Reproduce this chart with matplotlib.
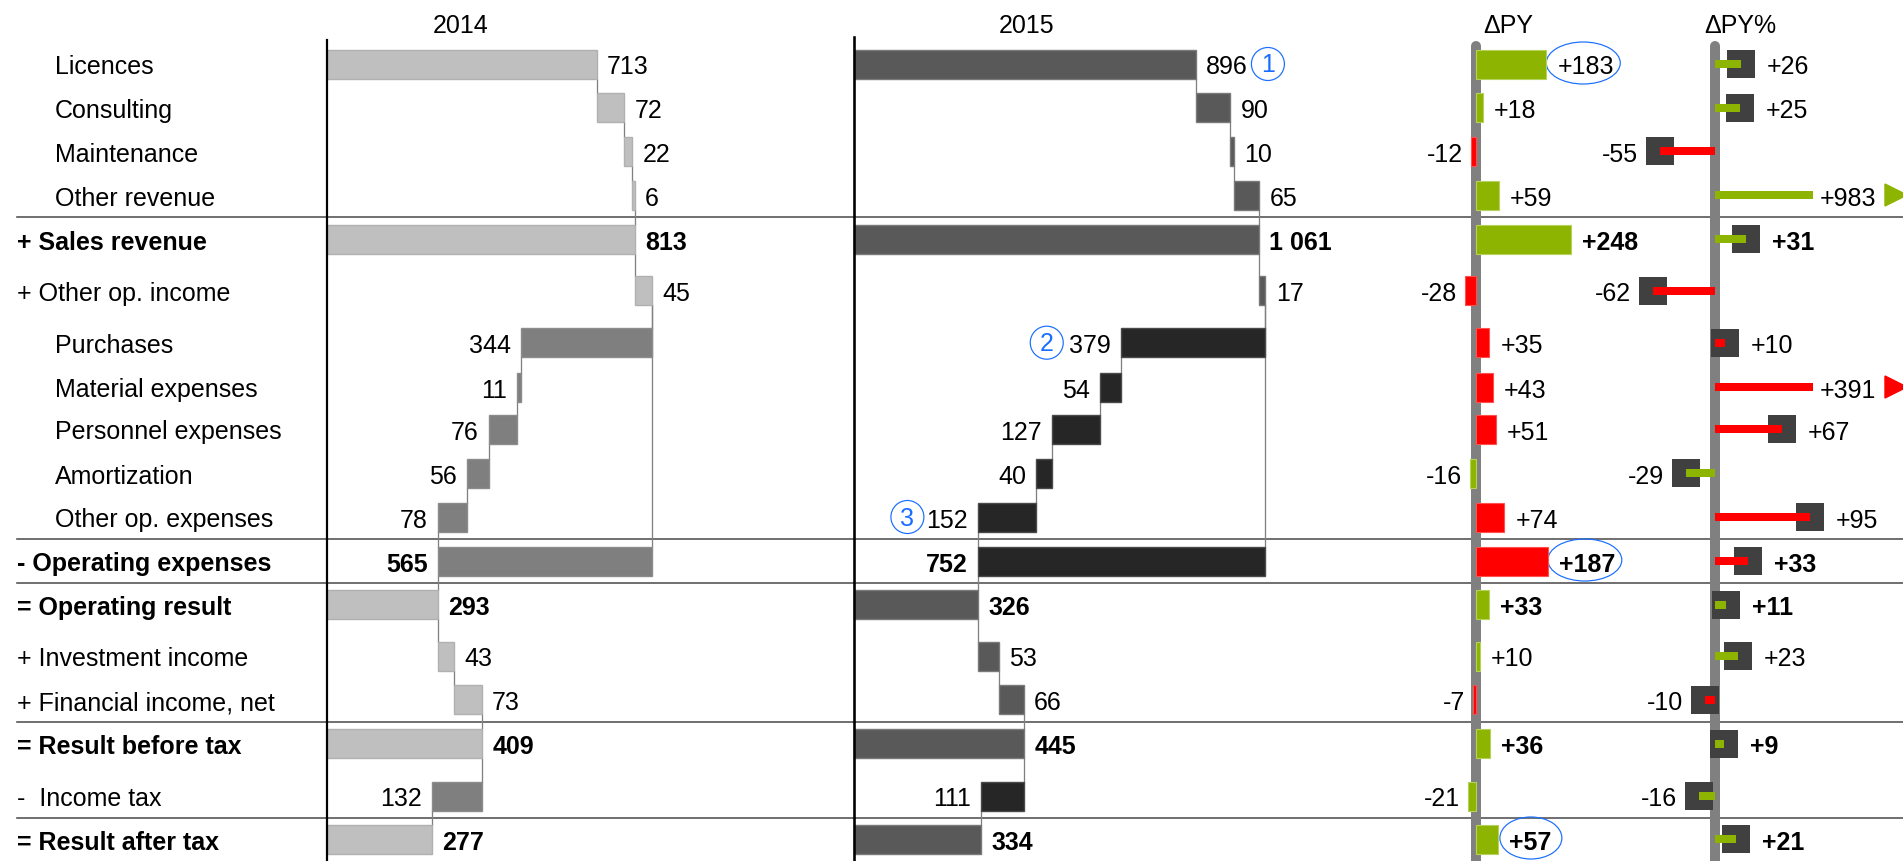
import matplotlib
matplotlib.use("Agg")
import matplotlib.pyplot as plt
from matplotlib.patches import Ellipse, Circle, Polygon

# ---------------- data ----------------
labels = ["Licences", "Consulting", "Maintenance", "Other revenue", "+ Sales revenue",
          "+ Other op. income", "Purchases", "Material expenses", "Personnel expenses",
          "Amortization", "Other op. expenses", "- Operating expenses", "= Operating result",
          "+ Investment income", "+ Financial income, net", "= Result before tax",
          "-  Income tax", "= Result after tax"]
# '+' adds, '-' subtracts, 'T' total, 'E' expense subtotal
kinds = ['+', '+', '+', '+', 'T', '+', '-', '-', '-', '-', '-', 'E', 'T', '+', '+', 'T', '-', 'T']
indented = [True, True, True, True, False, False, True, True, True, True, True,
            False, False, False, False, False, False, False]
v2014 = [713, 72, 22, 6, 813, 45, 344, 11, 76, 56, 78, 565, 293, 43, 73, 409, 132, 277]
v2015 = [896, 90, 10, 65, 1061, 17, 379, 54, 127, 40, 152, 752, 326, 53, 66, 445, 111, 334]
dpy = [183, 18, -12, 59, 248, -28, 35, 43, 51, -16, 74, 187, 33, 10, -7, 36, -21, 57]
dpy_pct = [26, 25, -55, 983, 31, -62, 10, 391, 67, -29, 95, 33, 11, 23, -10, 9, -16, 21]
headers = ["2014", "2015", "ΔPY", "ΔPY%"]
# annotations: (row, marker text)
circled_2015 = [(0, "1"), (6, "2"), (10, "3")]
ellipse_dpy_rows = [0, 11, 17]

# ---------------- layout ----------------
W, H = 1903, 861
row_y = [64, 107.5, 151, 195, 239, 290.5, 342.7, 387, 429, 473, 517, 561,
         604.5, 656, 699.5, 743.5, 796, 839]
BAR_H = 29
sep_after = [3, 10, 11, 14, 16]
FS = 18
BASE_OFF = 10.5          # px from row centre to text baseline
FONT = ["Liberation Sans", "DejaVu Sans"]
plt.rcParams["font.family"] = FONT

GREEN = "#8DB400"
RED = "#FF0000"
BLUE = "#1A6EFF"
PX2PT = 0.72
YOFF = -BASE_OFF * PX2PT   # offset in points for annotate (down)

fig = plt.figure(figsize=(W / 100, H / 100), dpi=100)

base = fig.add_axes([0, 0, 1, 1])
base.set_xlim(0, W)
base.set_ylim(H, 0)
base.axis("off")


def panel(px_left, px_right, zero_px, scale):
    ax = fig.add_axes([px_left / W, 0, (px_right - px_left) / W, 1])
    ax.set_xlim((px_left - zero_px) / scale, (px_right - zero_px) / scale)
    ax.set_ylim(H, 0)
    ax.axis("off")
    ax.patch.set_alpha(0)
    return ax


# row labels and separators
for i, lab in enumerate(labels):
    bold = kinds[i] in ("T", "E")
    base.text(55 if indented[i] else 17, row_y[i] + BASE_OFF, lab, fontsize=FS,
              fontweight="bold" if bold else "normal", va="baseline", ha="left")
for i in sep_after:
    yy = (row_y[i] + row_y[i + 1]) / 2
    base.plot([17, W], [yy, yy], color="#505050", lw=1.6 * PX2PT, zorder=1)


def fmt(v):
    return f"{v:,}".replace(",", " ")


def waterfall(vals):
    run = 0
    bars, after = [], []
    for v, k in zip(vals, kinds):
        if k == '+':
            lo, hi = run, run + v
            run = hi
        elif k == '-':
            lo, hi = run - v, run
            run = lo
        elif k == 'T':
            lo, hi = 0, v
            run = v
        else:  # 'E'
            lo, hi = run, run + v
        bars.append((lo, hi))
        after.append(run)
    return bars, after


def label(ax, txt, x, y, dx_pt, ha, bold):
    ax.annotate(txt, (x, y), xytext=(dx_pt, YOFF), textcoords="offset points",
                ha=ha, va="baseline", fontsize=FS,
                fontweight="bold" if bold else "normal")


def draw_waterfall(ax, vals, col_pos, col_neg, edge_pos, edge_neg):
    bars, after = waterfall(vals)
    for i, ((lo, hi), k) in enumerate(zip(bars, kinds)):
        neg = k in ('-', 'E')
        ax.barh(row_y[i], hi - lo, left=lo, height=BAR_H,
                color=col_neg if neg else col_pos,
                edgecolor=edge_neg if neg else edge_pos, linewidth=1.0, zorder=3)
        bold = k in ('T', 'E')
        if neg:
            label(ax, fmt(vals[i]), lo, row_y[i], -7.5, "right", bold)
        else:
            label(ax, fmt(vals[i]), hi, row_y[i], 7.5, "left", bold)
    # connectors
    for i in range(len(vals) - 1):
        x = after[i]
        ax.plot([x, x], [row_y[i] + BAR_H / 2, row_y[i + 1] - BAR_H / 2],
                color="#808080", lw=1.3 * PX2PT, zorder=2)
    for k_i, k in enumerate(kinds):
        if k == 'E':
            hi = bars[k_i][1]
            j = max(j for j in range(k_i) if after[j] == hi)
            ax.plot([hi, hi], [row_y[j] + BAR_H / 2, row_y[k_i] - BAR_H / 2],
                    color="#808080", lw=1.3 * PX2PT, zorder=2)
    return bars


HEAD_BASE = 33

# ---- 2014 ----
Z14, S14 = 327, 0.3784
ax14 = panel(240, 860, Z14, S14)
ax14.plot([0, 0], [40, H], color="black", lw=2.2 * PX2PT, zorder=4)
draw_waterfall(ax14, v2014, "#BFBFBF", "#7F7F7F", "#B0B0B0", "#8C8C8C")
base.text(461, HEAD_BASE, headers[0], fontsize=FS, ha="center", va="baseline")

# ---- 2015 ----
Z15, S15 = 854, 0.3816
ax15 = panel(700, 1460, Z15, S15)
ax15.plot([0, 0], [37, H], color="black", lw=2.6 * PX2PT, zorder=4)
bars15 = draw_waterfall(ax15, v2015, "#595959", "#262626", "#7A7A7A", "#4A4A4A")
base.text(1027, HEAD_BASE, headers[1], fontsize=FS, ha="center", va="baseline")

# circled markers
for r, t in circled_2015:
    lo, hi = bars15[r]
    if kinds[r] in ('-', 'E'):
        cx = Z15 + lo * S15 - (74 if r == 6 else 71)
    else:
        cx = Z15 + hi * S15 + 72
    base.add_patch(Circle((cx, row_y[r]), 16.5, fill=False, ec=BLUE, lw=1.2 * PX2PT, zorder=5))
    base.text(cx, row_y[r] + 8.5, t, color=BLUE, fontsize=FS, ha="center",
              va="baseline", zorder=6)

# ---- ΔPY ----
ZD, SD = 1476, 0.384
axd = panel(1380, 1700, ZD, SD)
axd.plot([0, 0], [46, H + 10], color="#808080", lw=10 * PX2PT,
         solid_capstyle="round", zorder=2)
base.text(1483, HEAD_BASE, headers[2], fontsize=FS, ha="left", va="baseline")
for i, v in enumerate(dpy):
    expense = kinds[i] in ('-', 'E')
    good = (v > 0) != expense
    col = GREEN if good else RED
    axd.barh(row_y[i], v, left=0, height=BAR_H, color=col,
             edgecolor="#B5D35A" if good else "#FF5050", linewidth=0.8, zorder=3)
    bold = kinds[i] in ('T', 'E')
    txt = f"{v:+d}"
    if v >= 0:
        label(axd, txt, v, row_y[i], 8, "left", bold)
    else:
        label(axd, txt, v, row_y[i], -6, "right", bold)
for r in ellipse_dpy_rows:
    cx = ZD + dpy[r] * SD + (33 if dpy[r] < 100 else 37)
    w = 62 if dpy[r] < 100 else 74
    base.add_patch(Ellipse((cx, row_y[r] - 1), w, 42, fill=False, ec=BLUE,
                           lw=1.2 * PX2PT, zorder=5))

# ---- ΔPY% ----
ZP, SP = 1715, 1.0
CAP = 98
SQ = 28
axp = panel(1560, W, ZP, SP)
axp.plot([0, 0], [46, H + 10], color="#808080", lw=10 * PX2PT,
         solid_capstyle="round", zorder=2)
base.text(1704, HEAD_BASE, headers[3], fontsize=FS, ha="left", va="baseline")
for i, v in enumerate(dpy_pct):
    expense = kinds[i] in ('-', 'E')
    good = (v > 0) != expense
    col = GREEN if good else RED
    bold = kinds[i] in ('T', 'E')
    txt = f"{v:+d}"
    if abs(v) > CAP:
        end = CAP if v > 0 else -CAP
        axp.barh(row_y[i], end, left=0, height=8, color=col, zorder=4)
        label(axp, txt, end, row_y[i], 5, "left", bold)
        tri = Polygon([(170, row_y[i] - 11), (170, row_y[i] + 11), (192, row_y[i])],
                      closed=True, color=col, zorder=4, clip_on=False)
        axp.add_patch(tri)
    else:
        axp.barh(row_y[i], SQ, left=v - SQ / 2, height=SQ, color="#404040", zorder=3)
        axp.barh(row_y[i], v, left=0, height=8, color=col, zorder=4)
        if v >= 0:
            label(axp, txt, v + SQ / 2, row_y[i], 8.5, "left", bold)
        else:
            label(axp, txt, v - SQ / 2, row_y[i], -6, "right", bold)

fig.savefig("out.png", dpi=100)
